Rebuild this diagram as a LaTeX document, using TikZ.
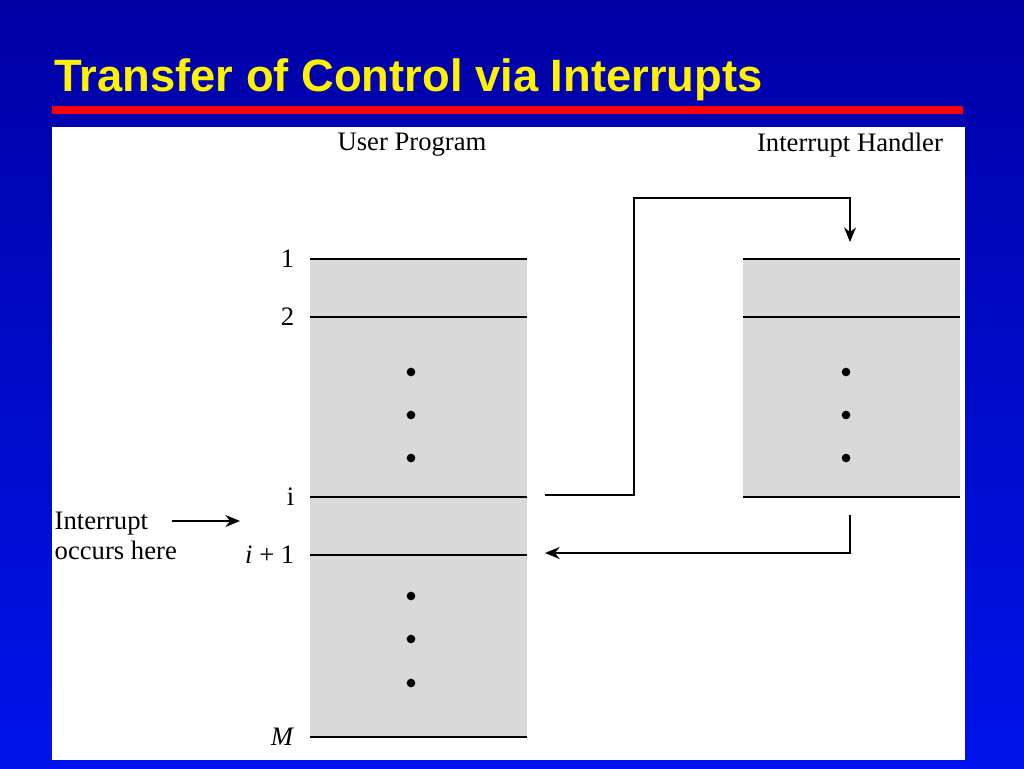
\documentclass[tikz,border=0pt]{standalone}
\usepackage{fontspec}
\setmainfont{Liberation Serif}
\newfontfamily\titlefont{Liberation Sans}
\usetikzlibrary{arrows.meta}
\begin{document}
\begin{tikzpicture}[x=0.75pt,y=-0.75pt,
  lbl/.style={font=\fontsize{20}{23}\selectfont},
  rule/.style={line width=1pt},
  flow/.style={line width=1pt,-{Stealth[length=11pt,width=9pt]}},
  dot/.style={circle,fill=black,inner sep=0pt,minimum size=6.5pt}]
\useasboundingbox (0,0) rectangle (1024,768);
\shade[top color={rgb,255:red,0;green,0;blue,165},bottom color={rgb,255:red,0;green,20;blue,235}] (0,0) rectangle (1024,768);
\node[anchor=west,text=yellow,font=\titlefont\bfseries\fontsize{34}{38}\selectfont] (title) at (50,80) {Transfer of Control via Interrupts};
\fill[red] (52,106) rectangle (963,114);
\fill[white] (52,127) rectangle (965,760);
\fill[black!15] (310,259) rectangle (527,737);
\foreach \y in {259,317,497,555,737} \draw[rule] (310,\y) -- (527,\y);
\fill[black!15] (743,259) rectangle (960,497);
\foreach \y in {259,317,497} \draw[rule] (743,\y) -- (960,\y);
\foreach \y [count=\k] in {372,415,458} {\node[dot] (ud\k) at (411,\y) {}; \node[dot] (hd\k) at (846,\y) {};}
\foreach \y [count=\k] in {596,639,683} \node[dot] (ue\k) at (411,\y) {};
\node[lbl] (up) at (412,145) {User Program};
\node[lbl] (ih) at (850,145) {Interrupt Handler};
\node[lbl,anchor=east] (l1) at (299,259) {1};
\node[lbl,anchor=east] (l2) at (299,317) {2};
\node[lbl,anchor=east] (li) at (299,497) {i};
\node[lbl,anchor=east] (lii) at (299,555) {\textit{i} + 1};
\node[lbl,anchor=east] (lM) at (299,737) {\textit{M}};
\node[lbl,anchor=west,align=left] (occ) at (50,536) {Interrupt\\occurs here};
\coordinate (oa) at (172,521); \coordinate (ob) at (240,521);
\draw[flow] (oa) -- (ob);
\coordinate (s1) at (545,495); \coordinate (s2) at (850,242);
\draw[flow] (s1) -- (634,495) -- (634,198) -- (850,198) -- (s2);
\coordinate (r1) at (850,515); \coordinate (r2) at (545,553);
\draw[flow] (r1) -- (850,553) -- (r2);
\end{tikzpicture}
\end{document}
